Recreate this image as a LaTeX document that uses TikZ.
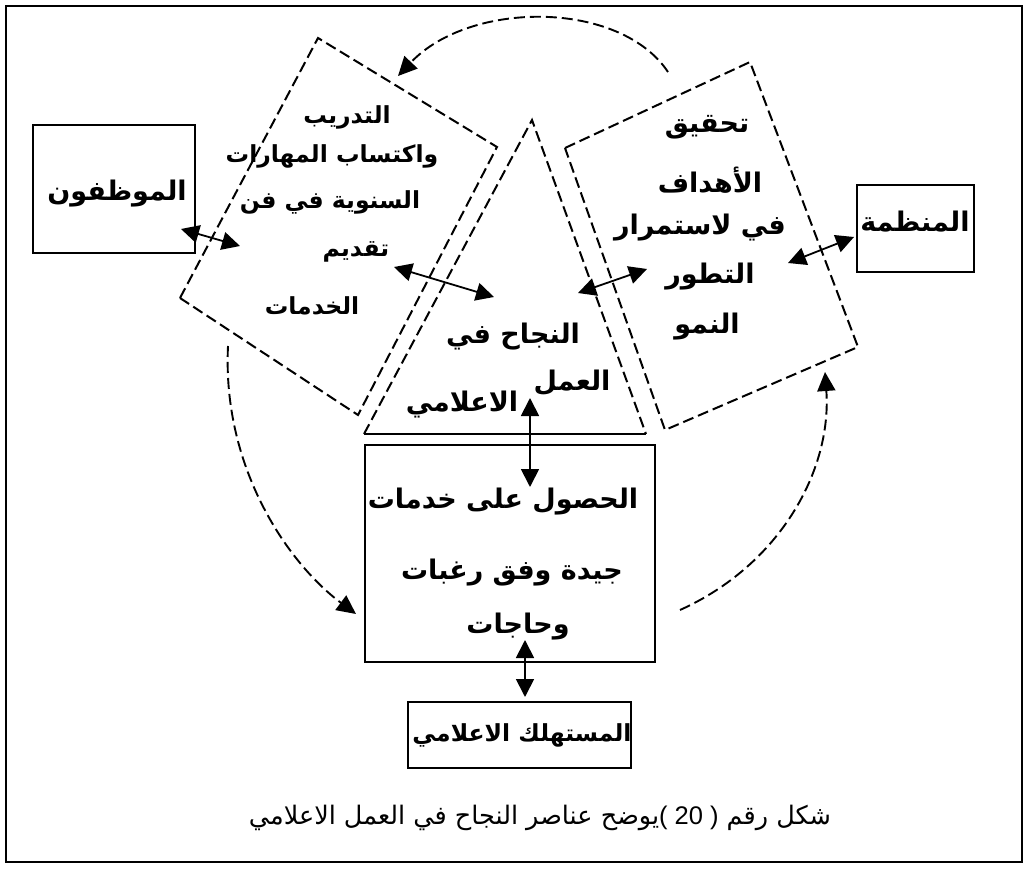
\documentclass[tikz,border=0pt]{standalone}
\usepackage{fontspec}
\setmainfont{Liberation Sans}
\newfontfamily\ar[Script=Arabic]{DejaVu Sans}
\newcommand\aw[1]{\hbox{#1}}
\usetikzlibrary{arrows.meta}
\begin{document}
\begin{tikzpicture}[x=1pt,y=-1pt,
  frameline/.style={line width=2.6pt},
  boxline/.style={draw,line width=2.2pt,inner sep=0pt},
  dashline/.style={line width=2pt,dash pattern=on 11pt off 5pt},
  conn/.style={line width=1.8pt,{Triangle[length=18pt,width=18pt]}-{Triangle[length=18pt,width=18pt]}},
  arcline/.style={line width=1.9pt,dash pattern=on 11pt off 5pt,-{Triangle[length=19pt,width=18pt]}},
  lbl/.style={inner sep=0pt,font=\ar\bfseries\fontsize{27}{31}\selectfont},
  lbls/.style={inner sep=0pt,font=\ar\bfseries\fontsize{23.5}{28}\selectfont},
  captext/.style={inner sep=0pt,font=\ar\fontsize{25.5}{30}\selectfont}]
\useasboundingbox (0,0) rectangle (1029,869);
\draw[frameline] (6,6) rectangle (1022,862);
% rotated rectangles and triangle
\coordinate (trA) at (180,298); \coordinate (trB) at (318,38);
\coordinate (trC) at (497,147); \coordinate (trD) at (358,415);
\draw[dashline] (trA) -- (trB) -- (trC) -- (trD) -- cycle;
\coordinate (goA) at (565,148); \coordinate (goB) at (750,62);
\coordinate (goC) at (858,347); \coordinate (goD) at (665,430);
\draw[dashline] (goA) -- (goB) -- (goC) -- (goD) -- cycle;
\coordinate (apex) at (532,120); \coordinate (bl) at (364,434); \coordinate (br) at (646,434);
\draw[dashline] (bl) -- (apex) -- (br);
\draw[line width=2.2pt] (bl) -- (br);
% boxes
\node[boxline,minimum width=162pt,minimum height=128pt] (emp) at (114,189) {};
\node[lbl] (empt) at (117,194) {الموظفون};
\node[boxline,minimum width=117pt,minimum height=87pt] (org) at (915.5,228.5) {};
\node[lbl] (orgt) at (915,222) {المنظمة};
\node[boxline,minimum width=290pt,minimum height=217pt] (cen) at (510,553.5) {};
\node[boxline,minimum width=223pt,minimum height=66pt] (con) at (519.5,735) {};
\node[lbls] (cont) at (522,735) {\aw{الاعلامي} \aw{المستهلك}};
% training text
\node[lbls] (t1) at (347,117) {التدريب};
\node[lbls] (t2) at (332,156) {\aw{المهارات} \aw{واكتساب}};
\node[lbls] (t3) at (330,202) {\aw{فن} \aw{في} \aw{السنوية}};
\node[lbls] (t4) at (356,252) {تقديم};
\node[lbls] (t5) at (312,306) {الخدمات};
% goals text
\node[lbl] (g1) at (707,127) {تحقيق};
\node[lbl] (g2) at (710,180) {الأهداف};
\node[lbl] (g3) at (700,228) {\aw{لاستمرار} \aw{في}};
\node[lbl] (g4) at (710,277) {التطور};
\node[lbl] (g5) at (707,327) {النمو};
% triangle text
\node[lbl] (s1) at (513,337) {\aw{في} \aw{النجاح}};
\node[lbl] (s2) at (572,383) {العمل};
\node[lbl] (s3) at (462,405) {الاعلامي};
% centre text
\node[lbl] (c1) at (503,502) {\aw{خدمات} \aw{على} \aw{الحصول}};
\node[lbl] (c2) at (512,573) {\aw{رغبات} \aw{وفق} \aw{جيدة}};
\node[lbl] (c3) at (518,627) {وحاجات};
% caption
\node[captext] (capt) at (540,818) {\aw{الاعلامي} \aw{العمل} \aw{في} \aw{النجاح} \aw{عناصر} \aw{يوضح}\aw{\rmfamily( 20 )} \aw{رقم} \aw{شكل}};
% connectors
\coordinate (a1) at (181,229); \coordinate (a2) at (240,246);
\draw[conn] (a1) -- (a2);
\coordinate (b1) at (394,267); \coordinate (b2) at (494,297);
\draw[conn] (b1) -- (b2);
\coordinate (d1) at (578,293); \coordinate (d2) at (647,269);
\draw[conn] (d1) -- (d2);
\coordinate (f1) at (788,263); \coordinate (f2) at (854,237);
\draw[conn] (f1) -- (f2);
\coordinate (v1) at (530,398); \coordinate (v2) at (530,487);
\draw[conn] (v1) -- (v2);
\coordinate (w1) at (525,640); \coordinate (w2) at (525,697);
\draw[conn] (w1) -- (w2);
% cycle arcs
\coordinate (p1) at (668,72); \coordinate (p2) at (398,76);
\draw[arcline] (p1) .. controls (620,0) and (470,0) .. (p2);
\coordinate (q1) at (228,346); \coordinate (q2) at (356,614);
\draw[arcline] (q1) .. controls (222,470) and (290,565) .. (q2);
\coordinate (r1) at (680,610); \coordinate (r2) at (825,372);
\draw[arcline] (r1) .. controls (780,565) and (832,470) .. (r2);
\end{tikzpicture}
\end{document}
